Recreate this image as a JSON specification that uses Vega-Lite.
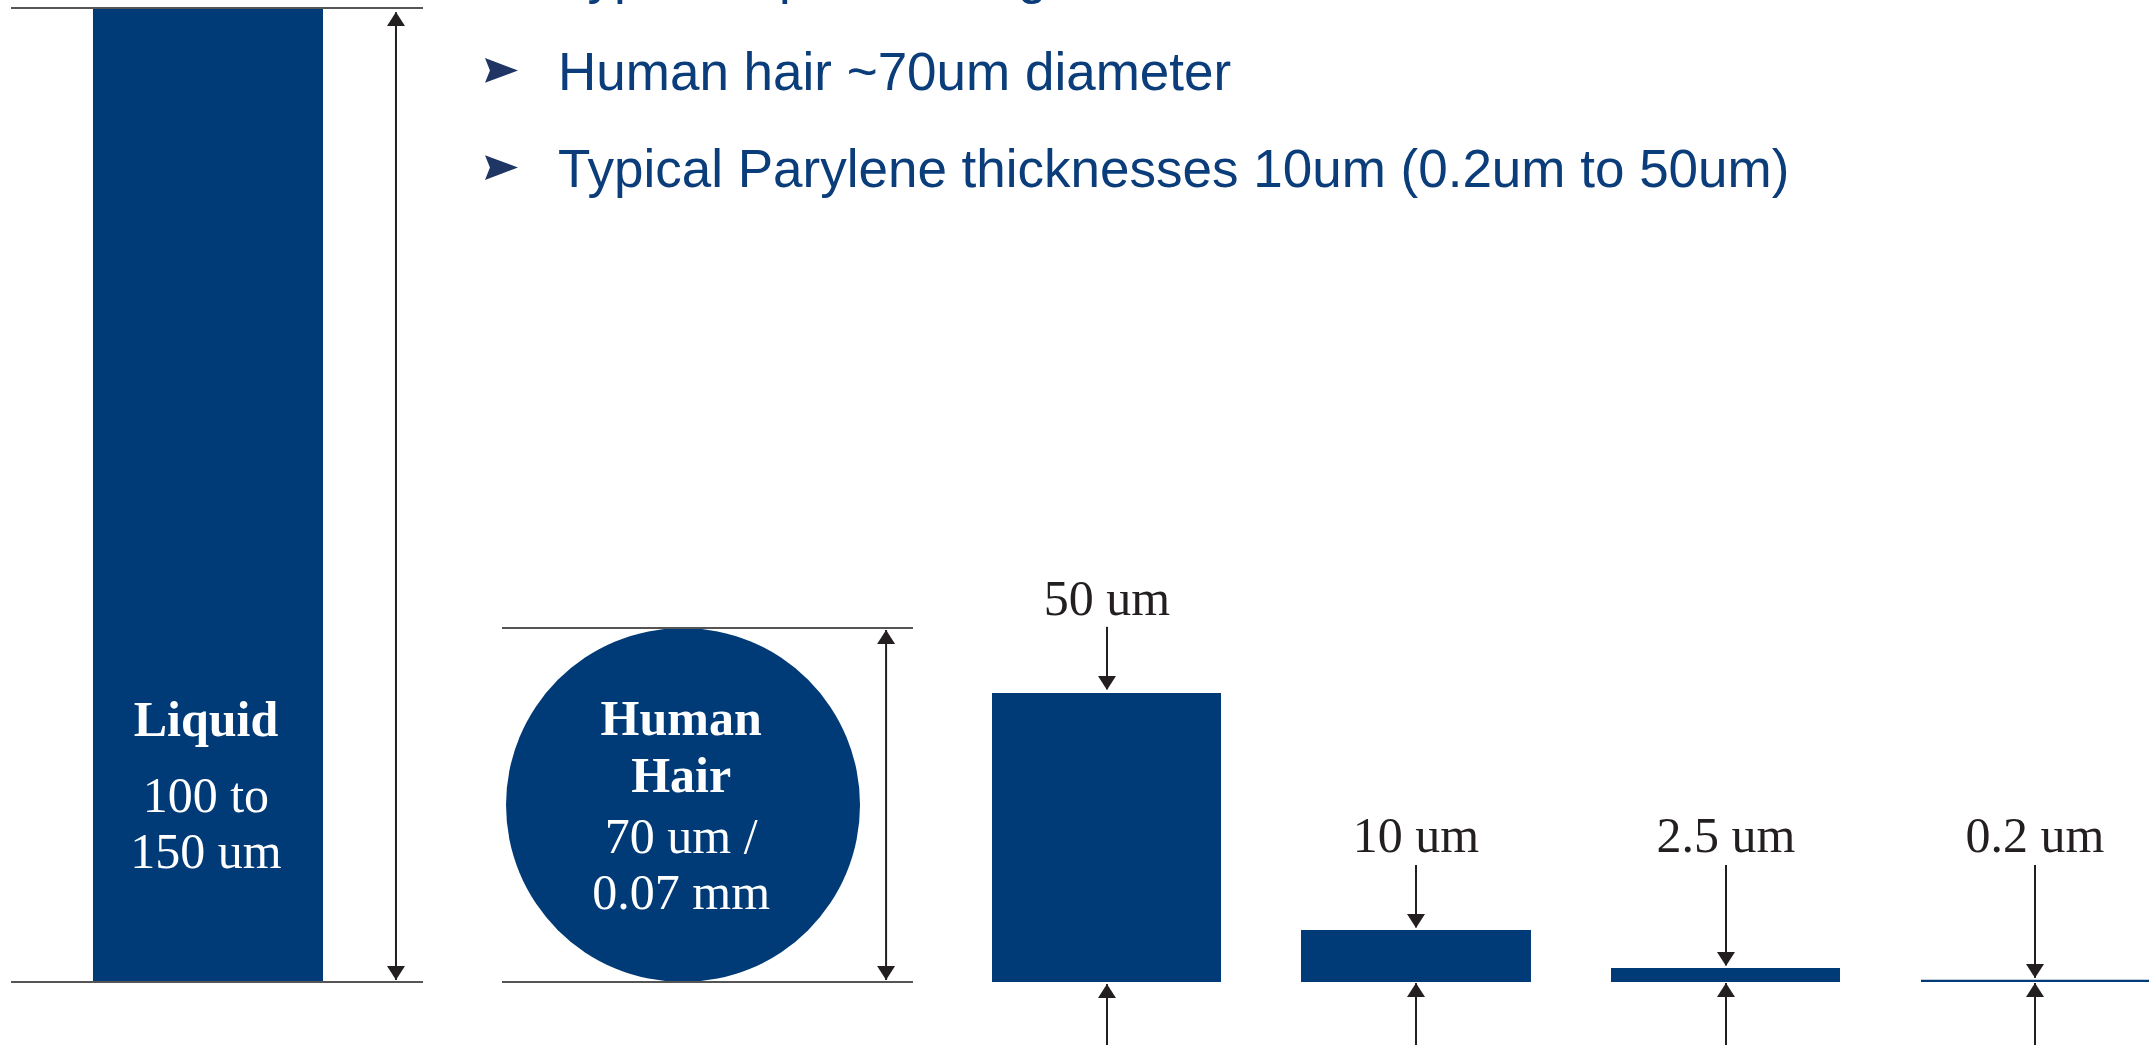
{
  "$schema": "https://vega.github.io/schema/vega-lite/v6.json",
  "width": 2149,
  "height": 1045,
  "padding": 0,
  "autosize": {"type": "none"},
  "background": "white",
  "config": {"view": {"stroke": null}},
  "datasets": {
    "shapes": [
      {"name": "Liquid", "left": 17.88, "right": 62.12, "top": 187.3},
      {"name": "50 um", "left": 190.77, "right": 234.81, "top": 55.58},
      {"name": "10 um", "left": 250.19, "right": 294.42, "top": 10.0},
      {"name": "2.5 um", "left": 309.81, "right": 353.85, "top": 2.69},
      {"name": "0.2 um", "left": 369.42, "right": 415.0, "top": 0.42}
    ],
    "circle": [
      {"name": "Human Hair", "cx": 131.35, "cy": 34.04}
    ],
    "guides": [
      {"from": 2.12, "to": 81.35, "at": 187.3},
      {"from": 2.12, "to": 81.35, "at": 0},
      {"from": 96.54, "to": 175.58, "at": 68.08},
      {"from": 96.54, "to": 175.58, "at": 0}
    ],
    "shafts": [
      {"at": 76.15, "from": 186.5, "to": 0.4},
      {"at": 170.4, "from": 67.7, "to": 0.4},
      {"at": 212.88, "from": 68.3, "to": 56.3},
      {"at": 212.88, "from": -12.3, "to": -0.4},
      {"at": 272.31, "from": 22.5, "to": 10.5},
      {"at": 272.31, "from": -12.3, "to": -0.2},
      {"at": 331.92, "from": 22.5, "to": 3.2},
      {"at": 331.92, "from": -12.3, "to": -0.2},
      {"at": 391.35, "from": 22.5, "to": 0.8},
      {"at": 391.35, "from": -12.3, "to": -0.2}
    ],
    "heads": [
      {"at": 76.15, "tip": 186.54, "dir": "up"},
      {"at": 76.15, "tip": 0.38, "dir": "down"},
      {"at": 170.4, "tip": 67.69, "dir": "up"},
      {"at": 170.4, "tip": 0.38, "dir": "down"},
      {"at": 212.88, "tip": 56.15, "dir": "down"},
      {"at": 212.88, "tip": -0.38, "dir": "up"},
      {"at": 272.31, "tip": 10.38, "dir": "down"},
      {"at": 272.31, "tip": -0.19, "dir": "up"},
      {"at": 331.92, "tip": 3.08, "dir": "down"},
      {"at": 331.92, "tip": -0.19, "dir": "up"},
      {"at": 391.35, "tip": 0.77, "dir": "down"},
      {"at": 391.35, "tip": -0.19, "dir": "up"}
    ],
    "whiteBold": [
      {"label": "Liquid", "x": 39.6, "y": 47.31},
      {"label": "Human", "x": 131.0, "y": 47.5},
      {"label": "Hair", "x": 131.0, "y": 36.54}
    ],
    "whiteRegular": [
      {"label": "100 to", "x": 39.6, "y": 32.69},
      {"label": "150 um", "x": 39.6, "y": 21.92},
      {"label": "70 um /", "x": 131.0, "y": 24.81},
      {"label": "0.07 mm", "x": 131.0, "y": 14.04}
    ],
    "dimLabels": [
      {"label": "50 um", "x": 212.88, "y": 70.58},
      {"label": "10 um", "x": 272.31, "y": 25.0},
      {"label": "2.5 um", "x": 331.92, "y": 25.0},
      {"label": "0.2 um", "x": 391.35, "y": 25.0}
    ],
    "bullets": [
      {"label": "Typical liquid coatings 100um to 150um", "x": 107.31, "y": 190.19, "my": 193.94},
      {"label": "Human hair ~70um diameter", "x": 107.31, "y": 171.54, "my": 175.29},
      {"label": "Typical Parylene thicknesses 10um (0.2um to 50um)", "x": 107.31, "y": 152.88, "my": 156.63}
    ]
  },
  "layer": [
    {
      "data": {"name": "shapes"},
      "mark": {"type": "rect", "color": "#003B77"},
      "encoding": {
        "x": {"field": "left", "type": "quantitative", "scale": {"domain": [0, 413.27], "nice": false, "zero": false}, "axis": null},
        "x2": {"field": "right"},
        "y": {"field": "top", "type": "quantitative", "scale": {"domain": [-12.115, 188.846], "nice": false, "zero": false}, "axis": null},
        "y2": {"datum": 0}
      }
    },
    {
      "data": {"name": "circle"},
      "mark": {"type": "point", "shape": "circle", "filled": true, "size": 125316, "color": "#003B77", "opacity": 1, "strokeWidth": 0},
      "encoding": {
        "x": {"field": "cx", "type": "quantitative", "scale": {"domain": [0, 413.27], "nice": false, "zero": false}, "axis": null},
        "y": {"field": "cy", "type": "quantitative", "scale": {"domain": [-12.115, 188.846], "nice": false, "zero": false}, "axis": null}
      }
    },
    {
      "data": {"name": "guides"},
      "mark": {"type": "rule", "color": "#555555", "strokeWidth": 2},
      "encoding": {
        "x": {"field": "from", "type": "quantitative", "scale": {"domain": [0, 413.27], "nice": false, "zero": false}, "axis": null},
        "x2": {"field": "to"},
        "y": {"field": "at", "type": "quantitative", "scale": {"domain": [-12.115, 188.846], "nice": false, "zero": false}, "axis": null}
      }
    },
    {
      "data": {"name": "shafts"},
      "mark": {"type": "rule", "color": "#231F20", "strokeWidth": 2},
      "encoding": {
        "x": {"field": "at", "type": "quantitative", "scale": {"domain": [0, 413.27], "nice": false, "zero": false}, "axis": null},
        "y": {"field": "from", "type": "quantitative", "scale": {"domain": [-12.115, 188.846], "nice": false, "zero": false}, "axis": null},
        "y2": {"field": "to"}
      }
    },
    {
      "data": {"name": "heads"},
      "mark": {"type": "point", "filled": true, "size": 400, "color": "#231F20", "opacity": 1, "strokeWidth": 0},
      "encoding": {
        "x": {"field": "at", "type": "quantitative", "scale": {"domain": [0, 413.27], "nice": false, "zero": false}, "axis": null},
        "y": {"field": "tip", "type": "quantitative", "scale": {"domain": [-12.115, 188.846], "nice": false, "zero": false}, "axis": null},
        "shape": {"field": "dir", "type": "nominal", "scale": {"domain": ["up", "down"], "range": ["M0,0L0.9,1.4L-0.9,1.4Z", "M0,0L0.9,-1.4L-0.9,-1.4Z"]}, "legend": null}
      }
    },
    {
      "data": {"name": "whiteBold"},
      "mark": {"type": "text", "font": "Liberation Serif", "fontSize": 50, "fontWeight": "bold", "color": "white", "align": "center", "baseline": "alphabetic"},
      "encoding": {
        "x": {"field": "x", "type": "quantitative", "scale": {"domain": [0, 413.27], "nice": false, "zero": false}, "axis": null},
        "y": {"field": "y", "type": "quantitative", "scale": {"domain": [-12.115, 188.846], "nice": false, "zero": false}, "axis": null},
        "text": {"field": "label"}
      }
    },
    {
      "data": {"name": "whiteRegular"},
      "mark": {"type": "text", "font": "Liberation Serif", "fontSize": 50, "color": "white", "align": "center", "baseline": "alphabetic"},
      "encoding": {
        "x": {"field": "x", "type": "quantitative", "scale": {"domain": [0, 413.27], "nice": false, "zero": false}, "axis": null},
        "y": {"field": "y", "type": "quantitative", "scale": {"domain": [-12.115, 188.846], "nice": false, "zero": false}, "axis": null},
        "text": {"field": "label"}
      }
    },
    {
      "data": {"name": "dimLabels"},
      "mark": {"type": "text", "font": "Liberation Serif", "fontSize": 50, "color": "#231F20", "align": "center", "baseline": "alphabetic"},
      "encoding": {
        "x": {"field": "x", "type": "quantitative", "scale": {"domain": [0, 413.27], "nice": false, "zero": false}, "axis": null},
        "y": {"field": "y", "type": "quantitative", "scale": {"domain": [-12.115, 188.846], "nice": false, "zero": false}, "axis": null},
        "text": {"field": "label"}
      }
    },
    {
      "data": {"name": "bullets"},
      "mark": {"type": "text", "font": "Liberation Sans", "fontSize": 53, "color": "#0A3D79", "align": "left", "baseline": "alphabetic"},
      "encoding": {
        "x": {"field": "x", "type": "quantitative", "scale": {"domain": [0, 413.27], "nice": false, "zero": false}, "axis": null},
        "y": {"field": "y", "type": "quantitative", "scale": {"domain": [-12.115, 188.846], "nice": false, "zero": false}, "axis": null},
        "text": {"field": "label"}
      }
    },
    {
      "data": {"name": "bullets"},
      "mark": {"type": "point", "filled": true, "size": 1089, "color": "#1F3564", "opacity": 1, "strokeWidth": 0, "shape": "M-1,-0.75L1,0L-1,0.75L-0.7,0Z", "xOffset": 0},
      "encoding": {
        "x": {"datum": 96.44, "type": "quantitative", "scale": {"domain": [0, 413.27], "nice": false, "zero": false}, "axis": null},
        "y": {"field": "my", "type": "quantitative", "scale": {"domain": [-12.115, 188.846], "nice": false, "zero": false}, "axis": null}
      }
    }
  ]
}
